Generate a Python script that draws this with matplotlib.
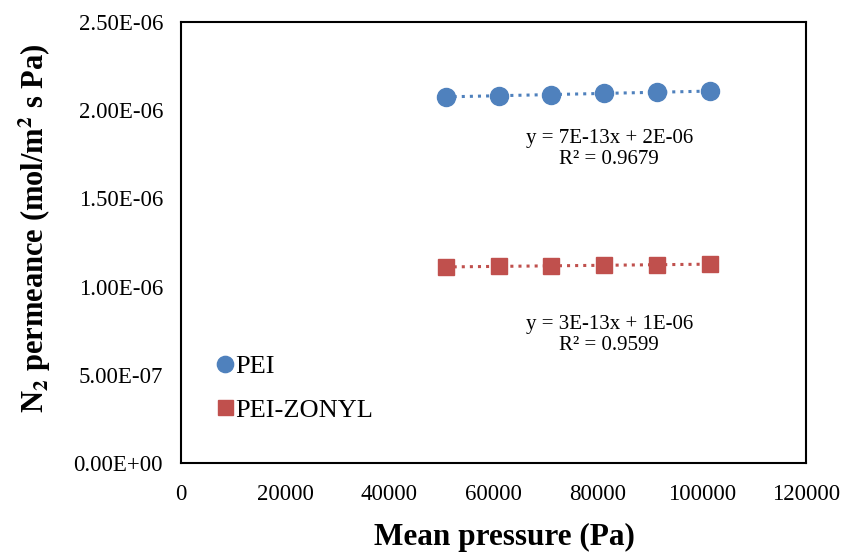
import numpy as np
import matplotlib.pyplot as plt

plt.rcParams['font.family'] = ['Liberation Serif', 'DejaVu Serif']
plt.rcParams['mathtext.fontset'] = 'stix'

# data
pressure = [50800, 61000, 71000, 81200, 91300, 101500]
pei = [2.077e-6, 2.083e-6, 2.088e-6, 2.096e-6, 2.102e-6, 2.110e-6]
pei_zonyl = [1.112e-6, 1.115e-6, 1.118e-6, 1.121e-6, 1.124e-6, 1.128e-6]
labels = ['PEI', 'PEI-ZONYL']
eq_text = ['y = 7E-13x + 2E-06\nR² = 0.9679', 'y = 3E-13x + 1E-06\nR² = 0.9599']

blue = '#4F81BD'
red = '#C0504D'

fig = plt.figure(figsize=(8.48, 5.54), dpi=100)
ax = fig.add_axes([0.2134, 0.1643, 0.7371, 0.7957])

x = np.array(pressure)
for y, c, m, ms, lab in [(pei, blue, 'o', 13, labels[0]), (pei_zonyl, red, 's', 12, labels[1])]:
    # linear trendline, dotted
    k, b = np.polyfit(x, y, 1)
    xl = np.array([x.min(), x.max()])
    ax.plot(xl, k * xl + b, ':', color=c, lw=2.2, zorder=2)
    ax.plot(x, y, m, color=c, ms=ms, ls='none', label=lab, zorder=3)

ax.text(82200, 1.78e-6, eq_text[0], ha='center', va='center', fontsize=15, linespacing=1.15)
ax.text(82200, 0.725e-6, eq_text[1], ha='center', va='center', fontsize=15, linespacing=1.15)

ax.set_xlim(0, 120000)
ax.set_ylim(0, 2.5e-6)
ax.set_xticks(np.arange(0, 120001, 20000))
ax.set_xticklabels([str(v) for v in range(0, 120001, 20000)])
yt = np.arange(0, 2.51e-6, 0.5e-6)
ax.set_yticks(yt)
ax.set_yticklabels(['%.2E' % v for v in yt])
ax.tick_params(length=0, labelsize=16.5)
ax.tick_params(axis='x', pad=15)
ax.tick_params(axis='y', pad=13)
for s in ax.spines.values():
    s.set_linewidth(1.5)

ax.set_xlabel('Mean pressure (Pa)', fontsize=22.5, fontweight='bold', va='center')
ax.xaxis.set_label_coords(0.518, -0.168)
ax.set_ylabel(r'N$_\mathbf{2}$ permeance (mol/m$^\mathbf{2}$ s Pa)', fontsize=22,
              fontweight='bold', va='center')
ax.yaxis.set_label_coords(-0.234, 0.533)

ax.legend(loc='lower left', bbox_to_anchor=(0.038, 0.07), frameon=False, fontsize=19,
          handlelength=0.7, handletextpad=0.05, labelspacing=0.75, borderaxespad=0,
          markerscale=0.9)

fig.savefig('out.png', dpi=100)
